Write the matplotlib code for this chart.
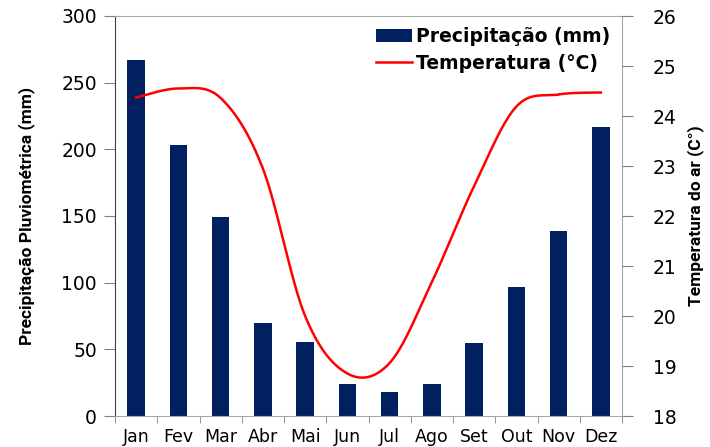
import numpy as np
import matplotlib
matplotlib.use("Agg")
import matplotlib.pyplot as plt

meses = ["Jan", "Fev", "Mar", "Abr", "Mai", "Jun", "Jul", "Ago", "Set", "Out", "Nov", "Dez"]
precip = [267, 203.5, 149.5, 69.5, 55.7, 23.7, 18, 24.2, 55, 96.5, 138.5, 216.7]
temp = [24.37, 24.55, 24.36, 22.95, 20.0, 18.85, 19.06, 20.68, 22.6, 24.19, 24.43, 24.47]


def catmull_rom(x, y, n=30):
    # smoothing similar to the spreadsheet's "smoothed line"
    x = np.asarray(x, float)
    y = np.asarray(y, float)
    px = np.concatenate([[x[0]], x, [x[-1]]])
    py = np.concatenate([[y[0]], y, [y[-1]]])
    xs, ys = [], []
    t = np.linspace(0, 1, n)
    for i in range(1, len(px) - 2):
        for p, out in ((px, xs), (py, ys)):
            p0, p1, p2, p3 = p[i - 1], p[i], p[i + 1], p[i + 2]
            out.extend(0.5 * ((2 * p1) + (-p0 + p2) * t
                              + (2 * p0 - 5 * p1 + 4 * p2 - p3) * t ** 2
                              + (-p0 + 3 * p1 - 3 * p2 + p3) * t ** 3))
    return np.array(xs), np.array(ys)


fig = plt.figure(figsize=(7.1, 4.47), dpi=100)
ax = fig.add_axes([115 / 710, 1 - 416 / 447, (622 - 115) / 710, 400 / 447])
x = np.arange(len(meses))
bars = ax.bar(x, precip, width=0.41, color="#002060", label="Precipitação (mm)", zorder=2)
ax.set_xlim(-0.5, 11.5)
ax.set_ylim(0, 300)
ax.set_yticks(range(0, 301, 50))
ax.set_xticks(x)
ax.set_xticklabels(meses)
ax.set_xticks(np.arange(-0.5, 12, 1), minor=True)
ax.tick_params(axis="x", which="major", length=0, pad=9, labelsize=12.5)
ax.tick_params(axis="x", which="minor", length=5, direction="out", color="#808080")
ax.tick_params(axis="y", length=8, direction="out", labelsize=13.5, color="#808080", pad=5)
for s in ["top", "right", "bottom"]:
    ax.spines[s].set_color("#a6a6a6")
ax.spines["left"].set_color("#404040")

ax2 = ax.twinx()
sx, sy = catmull_rom(x, temp)
line, = ax2.plot(sx, sy, color="#ff0000", lw=1.8, label="Temperatura (°C)", zorder=3)
ax2.set_ylim(18, 26)
ax2.set_yticks(range(18, 27))
ax2.tick_params(axis="y", length=8, direction="out", labelsize=13.5, color="#808080", pad=14)
for s in ["top", "right", "bottom", "left"]:
    ax2.spines[s].set_visible(False)

lab = dict(family=["Roboto", "DejaVu Sans"], fontstretch="condensed", fontsize=12.5, fontweight="bold")
ax.set_ylabel("Precipitação Pluviométrica (mm)", labelpad=19, **lab)
ax2.set_ylabel("Temperatura do ar (C°)", labelpad=8, **lab)

leg = ax.legend([bars, line], ["Precipitação (mm)", "Temperatura (°C)"],
                loc="upper right", bbox_to_anchor=(1.0, 1.0), frameon=False,
                prop={"weight": "bold", "size": 13.5}, handlelength=1.9,
                handletextpad=0.25, labelspacing=0.4, borderaxespad=0.2)

fig.savefig("out.png", dpi=100)
